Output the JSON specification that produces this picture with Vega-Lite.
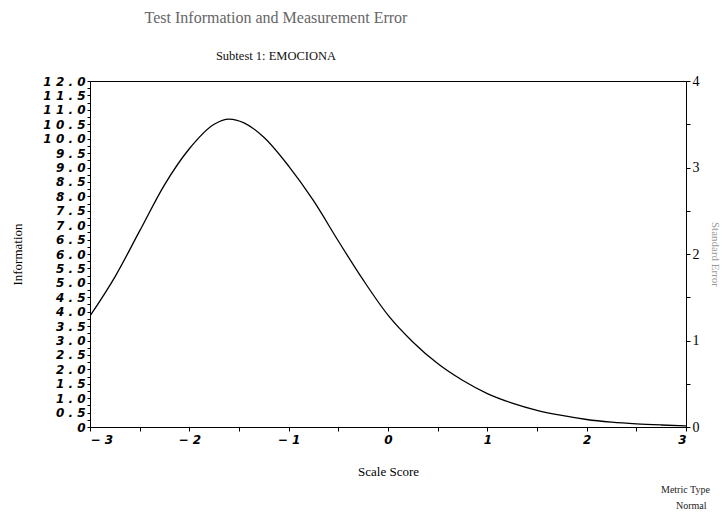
{
  "$schema": "https://vega.github.io/schema/vega-lite/v6.json",
  "autosize": "none",
  "width": 596,
  "height": 346,
  "padding": {"left": 90, "top": 81, "right": 38, "bottom": 86},
  "background": "white",
  "title": {
    "text": "Test Information and Measurement Error",
    "subtitle": "Subtest 1: EMOCIONA",
    "frame": "group",
    "anchor": "middle",
    "dx": -112,
    "offset": 12,
    "font": "Liberation Serif",
    "fontSize": 16,
    "fontWeight": "normal",
    "color": "#666666",
    "subtitleFont": "Liberation Serif",
    "subtitleFontSize": 12.5,
    "subtitleColor": "#111111",
    "subtitlePadding": 24
  },
  "config": {
    "view": {"stroke": "black", "strokeWidth": 1},
    "axis": {
      "grid": false,
      "domainColor": "black",
      "tickColor": "black",
      "labelColor": "black",
      "titleColor": "black",
      "titleFont": "Liberation Serif",
      "titleFontSize": 13,
      "titleFontWeight": "normal"
    }
  },
  "layer": [
    {
      "data": {
        "values": [
          {"score": -3.0, "info": 3.85},
          {"score": -2.75, "info": 5.2},
          {"score": -2.5, "info": 6.8},
          {"score": -2.25, "info": 8.4},
          {"score": -2.0, "info": 9.65},
          {"score": -1.75, "info": 10.5},
          {"score": -1.6, "info": 10.68},
          {"score": -1.45, "info": 10.55},
          {"score": -1.25, "info": 10.05},
          {"score": -1.0, "info": 9.05},
          {"score": -0.75, "info": 7.85},
          {"score": -0.5, "info": 6.45},
          {"score": -0.25, "info": 5.1},
          {"score": 0.0, "info": 3.88},
          {"score": 0.25, "info": 2.95},
          {"score": 0.5, "info": 2.2},
          {"score": 0.75, "info": 1.62},
          {"score": 1.0, "info": 1.16},
          {"score": 1.25, "info": 0.83},
          {"score": 1.5, "info": 0.58},
          {"score": 1.75, "info": 0.4},
          {"score": 2.0, "info": 0.26},
          {"score": 2.25, "info": 0.17},
          {"score": 2.5, "info": 0.11},
          {"score": 2.75, "info": 0.07},
          {"score": 3.0, "info": 0.04}
        ]
      },
      "mark": {"type": "line", "interpolate": "monotone", "strokeWidth": 1.3, "clip": true},
      "encoding": {
        "x": {
          "field": "score",
          "type": "quantitative",
          "scale": {"domain": [-3, 3], "nice": false, "zero": false},
          "axis": {
            "title": "Scale Score",
            "titlePadding": 20,
            "values": [-3, -2.5, -2, -1.5, -1, -0.5, 0, 0.5, 1, 1.5, 2, 2.5, 3],
            "labelExpr": "datum.value % 1 == 0 ? join(split(format(datum.value, 'd'), ''), ' ') : ''",
            "labelFont": "DejaVu Sans",
            "labelFontStyle": "italic",
            "labelFontSize": 12,
            "labelFontWeight": "bold",
            "tickSize": 4,
            "labelPadding": 3
          }
        },
        "y": {
          "field": "info",
          "type": "quantitative",
          "scale": {"domain": [0, 12], "nice": false},
          "axis": {
            "title": "Information",
            "titlePadding": 18,
            "values": [0, 0.25, 0.5, 0.75, 1, 1.25, 1.5, 1.75, 2, 2.25, 2.5, 2.75, 3, 3.25, 3.5, 3.75, 4, 4.25, 4.5, 4.75, 5, 5.25, 5.5, 5.75, 6, 6.25, 6.5, 6.75, 7, 7.25, 7.5, 7.75, 8, 8.25, 8.5, 8.75, 9, 9.25, 9.5, 9.75, 10, 10.25, 10.5, 10.75, 11, 11.25, 11.5, 11.75, 12],
            "labelExpr": "datum.value == 0 ? '0' : (datum.value % 0.5 == 0 ? join(split(format(datum.value, '.1f'), ''), ' ') : '')",
            "labelFont": "DejaVu Sans",
            "labelFontStyle": "italic",
            "labelFontSize": 12,
            "labelFontWeight": "bold",
            "labelOverlap": false,
            "labelBound": false,
            "tickSize": 3,
            "labelPadding": 2
          }
        },
        "color": {
          "datum": "Normal",
          "scale": {"range": ["black"]},
          "legend": {
            "orient": "none",
            "legendX": 571,
            "legendY": 404,
            "title": "Metric Type",
            "titleFont": "Liberation Serif",
            "titleFontSize": 10,
            "titleFontWeight": "normal",
            "titleColor": "#222222",
            "titlePadding": 6,
            "labelFont": "Liberation Serif",
            "labelFontSize": 10,
            "labelColor": "#222222",
            "labelOffset": 5,
            "symbolOpacity": 0,
            "symbolStrokeWidth": 0,
            "symbolSize": 1
          }
        }
      }
    },
    {
      "data": {"values": [{"se": 0}, {"se": 4}]},
      "mark": {"type": "rule", "opacity": 0},
      "encoding": {
        "y": {
          "field": "se",
          "type": "quantitative",
          "scale": {"domain": [0, 4], "nice": false},
          "axis": {
            "orient": "right",
            "title": "Standard Error",
            "titleColor": "#999999",
            "titleFontSize": 11,
            "titlePadding": 10,
            "values": [0, 0.5, 1, 1.5, 2, 2.5, 3, 3.5, 4],
            "labelExpr": "datum.value % 1 == 0 ? format(datum.value, 'd') : ''",
            "labelFont": "Liberation Serif",
            "labelFontSize": 14,
            "labelOverlap": false,
            "labelBound": false,
            "tickSize": 4,
            "labelPadding": 2
          }
        }
      }
    }
  ],
  "resolve": {"scale": {"y": "independent"}}
}
